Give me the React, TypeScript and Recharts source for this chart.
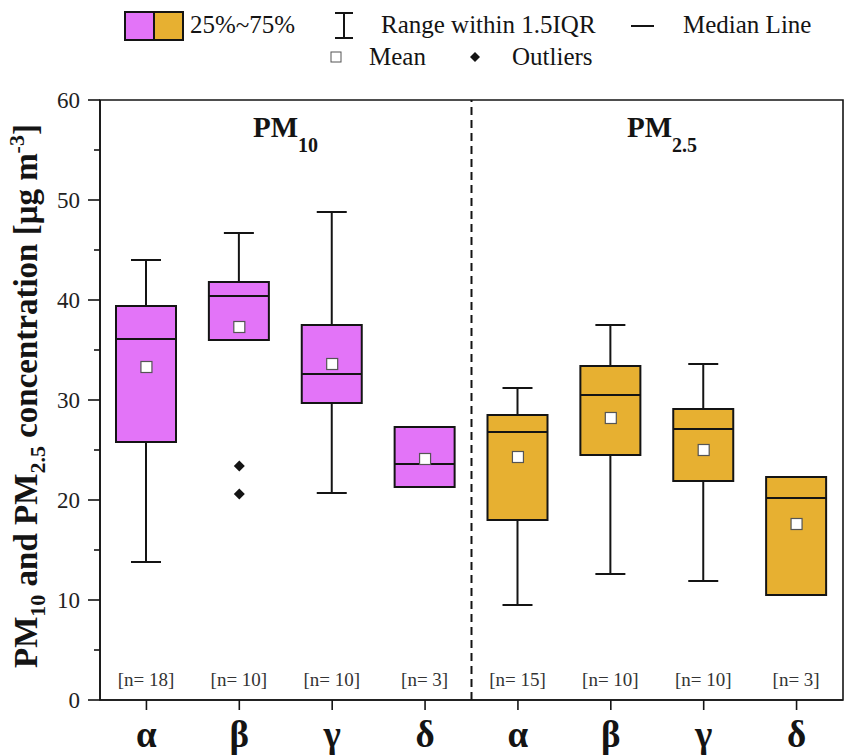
import React from 'react';
import { ComposedChart, Bar, Scatter, XAxis, YAxis, ReferenceLine, ReferenceArea } from 'recharts';

const categories = ['α', 'β', 'γ', 'δ', 'α', 'β', 'γ', 'δ'];
const groups = ['PM10', 'PM10', 'PM10', 'PM10', 'PM2.5', 'PM2.5', 'PM2.5', 'PM2.5'];
const whiskerLow = [13.8, 36.0, 20.7, 21.3, 9.5, 12.6, 11.9, 10.5];
const q1Values = [25.8, 36.0, 29.7, 21.3, 18.0, 24.5, 21.9, 10.5];
const medianValues = [36.1, 40.4, 32.6, 23.6, 26.8, 30.5, 27.1, 20.2];
const q3Values = [39.4, 41.8, 37.5, 27.3, 28.5, 33.4, 29.1, 22.3];
const whiskerHigh = [44.0, 46.7, 48.8, 27.3, 31.2, 37.5, 33.6, 22.3];
const meanValues = [33.3, 37.3, 33.6, 24.1, 24.3, 28.2, 25.0, 17.6];
const nCounts = [18, 10, 10, 3, 15, 10, 10, 3];
const outlierIndex = [1, 1];
const outlierValues = [23.4, 20.6];
const yTicks = [0, 5, 10, 15, 20, 25, 30, 35, 40, 45, 50, 55, 60];

const FONT = "'Liberation Serif', 'Times New Roman', 'DejaVu Serif', serif";
const COLORS: Record<string, string> = { PM10: '#E374F8', 'PM2.5': '#E7B031' };
const INK = '#141414';

const data = categories.map((c, i) => ({
  key: `${groups[i]}-${c}`,
  cat: c,
  group: groups[i],
  range: [whiskerLow[i], whiskerHigh[i]],
  low: whiskerLow[i],
  q1: q1Values[i],
  median: medianValues[i],
  q3: q3Values[i],
  high: whiskerHigh[i],
  mean: meanValues[i],
  n: nCounts[i],
}));

const outlierData = outlierValues.map((v, j) => ({ key: data[outlierIndex[j]].key, value: v }));
const lastPM10Key = data[3].key;

const BoxShape = (props: any) => {
  const { x, y, width, height, payload } = props;
  if (x == null || y == null || !payload) return null;
  const lo = payload.low;
  const hi = payload.high;
  const top = Math.min(y, y + height);
  const h = Math.abs(height);
  const pix = (v: number) => top + (h * (hi - v)) / (hi - lo);
  const cx = x + width / 2;
  const bw = 60;
  const cap = 30;
  const fill = COLORS[payload.group];
  return (
    <g>
      {hi > payload.q3 && (
        <g stroke={INK} strokeWidth={2}>
          <line x1={cx} x2={cx} y1={pix(hi)} y2={pix(payload.q3)} />
          <line x1={cx - cap / 2} x2={cx + cap / 2} y1={pix(hi)} y2={pix(hi)} />
        </g>
      )}
      {lo < payload.q1 && (
        <g stroke={INK} strokeWidth={2}>
          <line x1={cx} x2={cx} y1={pix(payload.q1)} y2={pix(lo)} />
          <line x1={cx - cap / 2} x2={cx + cap / 2} y1={pix(lo)} y2={pix(lo)} />
        </g>
      )}
      <rect
        x={cx - bw / 2}
        y={pix(payload.q3)}
        width={bw}
        height={pix(payload.q1) - pix(payload.q3)}
        fill={fill}
        stroke={INK}
        strokeWidth={2}
      />
      <line x1={cx - bw / 2} x2={cx + bw / 2} y1={pix(payload.median)} y2={pix(payload.median)} stroke={INK} strokeWidth={2} />
      <text x={cx} y={pix(1.4)} textAnchor="middle" fontFamily={FONT} fontSize={19} fill="#333">
        {`[n= ${payload.n}]`}
      </text>
    </g>
  );
};

const MeanShape = (props: any) => {
  const { cx, cy } = props;
  if (cx == null || cy == null) return null;
  return <rect x={cx - 5.5} y={cy - 5.5} width={11} height={11} fill="#fff" stroke="#555" strokeWidth={1.2} />;
};

const OutlierShape = (props: any) => {
  const { cx, cy } = props;
  if (cx == null || cy == null) return null;
  const r = 5.5;
  return <polygon points={`${cx},${cy - r} ${cx + r},${cy} ${cx},${cy + r} ${cx - r},${cy}`} fill={INK} />;
};

const YTick = (props: any) => {
  const { x, y, payload } = props;
  const v = payload.value;
  const major = v % 10 === 0;
  return (
    <g>
      <line x1={x} x2={x - (major ? 12 : 6)} y1={y} y2={y} stroke={INK} strokeWidth={1.6} />
      {major && (
        <text x={x - 20} y={y + 8} textAnchor="end" fontFamily={FONT} fontSize={23} fill="#222">
          {v}
        </text>
      )}
    </g>
  );
};

const XTick = (props: any) => {
  const { x, y, payload } = props;
  const item = data.find((d) => d.key === payload.value);
  return (
    <text x={x} y={y + 37} textAnchor="middle" fontFamily={FONT} fontSize={37} fontWeight="bold" fill={INK}>
      {item ? item.cat : ''}
    </text>
  );
};

export default function App() {
  return (
    <div style={{ position: 'absolute', left: 0, top: 0, width: 845, height: 756, background: '#fff' }}>
      <ComposedChart width={845} height={756} data={data} margin={{ top: 100, right: 2, bottom: 0, left: 0 }}>
        <XAxis
          dataKey="key"
          type="category"
          allowDuplicatedCategory={false}
          height={56}
          tick={<XTick />}
          tickSize={10}
          tickMargin={0}
          tickLine={{ stroke: INK, strokeWidth: 1.6 }}
          axisLine={{ stroke: INK, strokeWidth: 1.6 }}
          interval={0}
        />
        <YAxis
          type="number"
          domain={[0, 60]}
          ticks={yTicks}
          width={100}
          tick={<YTick />}
          tickSize={0}
          tickMargin={0}
          tickLine={false}
          axisLine={{ stroke: INK, strokeWidth: 1.6 }}
          interval={0}
        />
        <ReferenceArea y1={0} y2={60} fill="none" stroke={INK} strokeWidth={1.6} />
        <ReferenceLine x={lastPM10Key} position="end" stroke={INK} strokeWidth={2} strokeDasharray="8 5" />
        <Bar dataKey="range" barSize={60} shape={<BoxShape />} isAnimationActive={false} />
        <Scatter dataKey="mean" shape={<MeanShape />} isAnimationActive={false} />
        <Scatter data={outlierData} dataKey="value" shape={<OutlierShape />} isAnimationActive={false} />
      </ComposedChart>
      <svg width={845} height={756} style={{ position: 'absolute', left: 0, top: 0, pointerEvents: 'none' }}>
        <g fontFamily={FONT} fill={INK}>
          {/* Legend row 1 */}
          <rect x={125} y={12} width={29} height={28} fill={COLORS.PM10} stroke={INK} strokeWidth={2} />
          <rect x={154} y={12} width={29} height={28} fill={COLORS['PM2.5']} stroke={INK} strokeWidth={2} />
          <text x={190} y={33} fontSize={25}>25%~75%</text>
          <g stroke={INK} strokeWidth={2}>
            <line x1={344} x2={344} y1={13} y2={38} />
            <line x1={335} x2={353} y1={13} y2={13} />
            <line x1={335} x2={353} y1={38} y2={38} />
          </g>
          <text x={381} y={33} fontSize={25}>Range within 1.5IQR</text>
          <line x1={631} x2={654} y1={26} y2={26} stroke={INK} strokeWidth={2} />
          <text x={683} y={33} fontSize={25}>Median Line</text>
          {/* Legend row 2 */}
          <rect x={331} y={52} width={10} height={10} fill="#fff" stroke="#555" strokeWidth={1} />
          <text x={369} y={65} fontSize={25}>Mean</text>
          <polygon points="475,52 480,57 475,62 470,57" fill={INK} />
          <text x={512} y={65} fontSize={25}>Outliers</text>
          {/* Panel titles */}
          <text x={253} y={137} fontSize={29} fontWeight="bold">
            PM<tspan fontSize={20} dy={15}>10</tspan>
          </text>
          <text x={627} y={137} fontSize={29} fontWeight="bold">
            PM<tspan fontSize={20} dy={15}>2.5</tspan>
          </text>
          {/* Y axis title */}
          <text
            transform="translate(37,396) rotate(-90)"
            x={0}
            y={0}
            textAnchor="middle"
            fontSize={33}
            fontWeight="bold"
          >
            PM<tspan fontSize={22} dy={8}>10</tspan>
            <tspan dy={-8}> and PM</tspan>
            <tspan fontSize={22} dy={8}>2.5</tspan>
            <tspan dy={-8}> concentration [μg m</tspan>
            <tspan fontSize={22} dy={-13}>-3</tspan>
            <tspan dy={13}>]</tspan>
          </text>
        </g>
      </svg>
    </div>
  );
}
